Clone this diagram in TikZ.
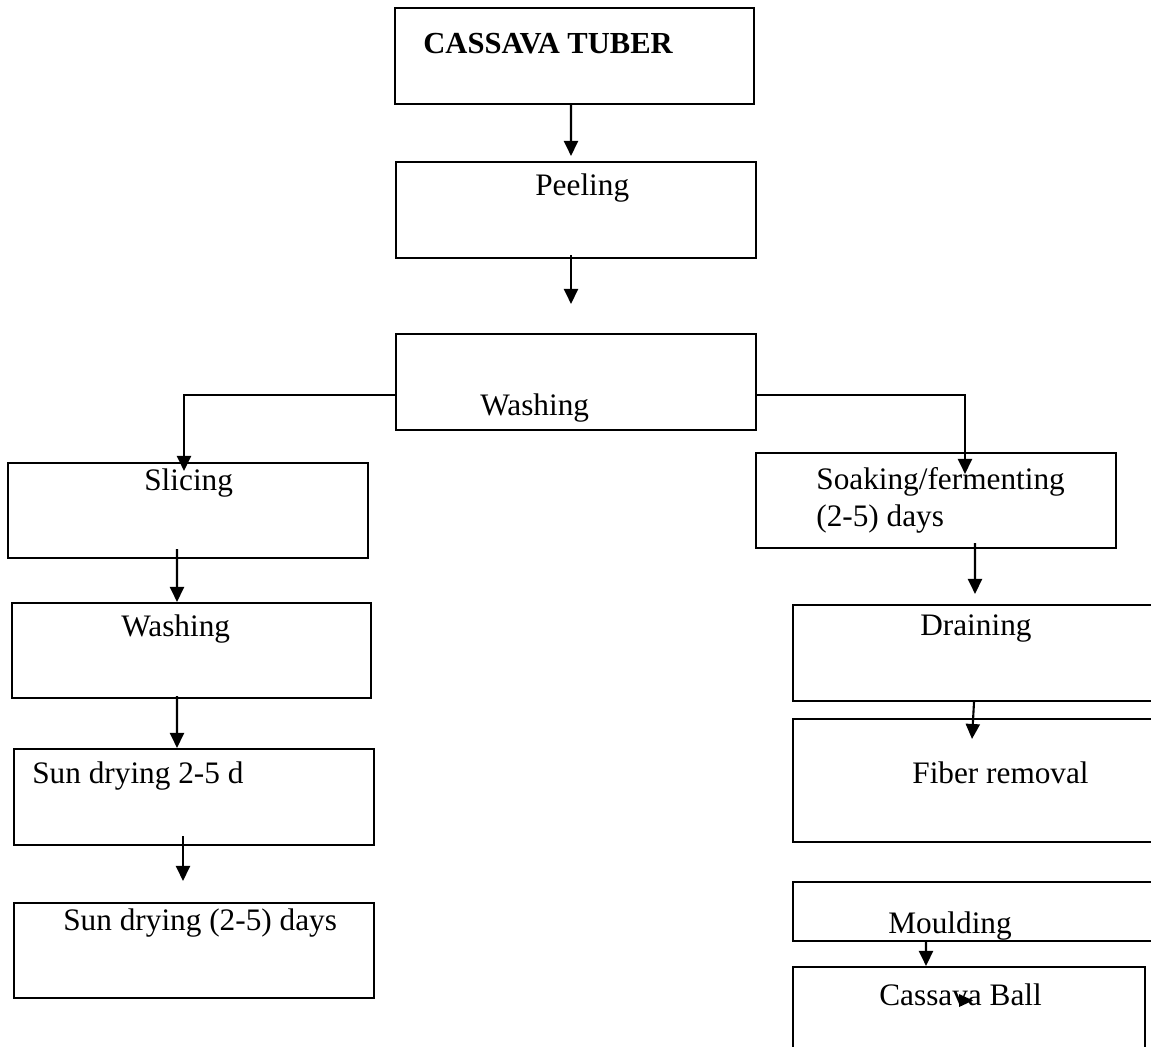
\documentclass[tikz,border=0pt]{standalone}
\usepackage{fontspec}
\setmainfont{Liberation Serif}
\usetikzlibrary{arrows.meta}

\begin{document}
\begin{tikzpicture}[x=0.02cm, y=-0.02cm,
	every node/.style={font=\fontsize{17.8}{21}\selectfont},
	box/.style={draw, line width=1.2pt, rectangle, minimum width=7.2cm, minimum height=1.92cm, inner sep=0pt},
	txt/.style={anchor=base west, inner sep=0pt},
	flow/.style={line width=1.2pt, -{Triangle[length=0.3cm, width=0.28cm]}}]
	\useasboundingbox (0,0) rectangle (1151,1046);
	\clip (0,0) rectangle (1151,1046);
	\node[box, minimum width=7.18cm] (tuber) at (574.5,56) {};
	\node[txt, font=\fontsize{17.4}{21}\selectfont\bfseries] (tuberT) at (423,53) {CASSAVA TUBER};
	\node[box] (peel) at (576,210) {};
	\node[txt] (peelT) at (535,195) {Peeling};
	\node[box] (wash) at (576,382) {};
	\node[txt] (washT) at (480,415) {Washing};
	\node[box, minimum height=1.9cm] (slice) at (188,510.5) {};
	\node[txt] (sliceT) at (144,490) {Slicing};
	\node[box, minimum width=7.18cm, minimum height=1.9cm] (washb) at (191.5,650.5) {};
	\node[txt] (washbT) at (121,636) {Washing};
	\node[box] (sunA) at (194,797) {};
	\node[txt] (sunAT) at (32,783) {Sun drying 2-5 d};
	\node[box, minimum height=1.9cm] (sunB) at (194,950.5) {};
	\node[txt] (sunBT) at (63,930) {Sun drying (2-5) days};
	\node[box, minimum height=1.9cm] (soak) at (936,500.5) {};
	\node[txt] (soakT) at (816,489) {Soaking/fermenting};
	\node[txt] (soakU) at (816,526) {(2-5) days};
	\node[box] (drain) at (973,653) {};
	\node[txt] (drainT) at (920,635) {Draining};
	\node[box, minimum height=2.46cm] (fiber) at (973,780.5) {};
	\node[txt] (fiberT) at (912,783) {Fiber removal};
	\node[box, minimum height=1.18cm] (mould) at (973,911.5) {};
	\node[txt] (mouldT) at (888,933) {Moulding};
	\node[box, minimum width=7.04cm] (ball) at (969,1015) {};
	\node[txt] (ballT) at (879,1005) {Cassava Ball};
	\draw[flow, shorten >=0.1cm] ([xshift=-0.07cm]tuber.south) -- ([xshift=-0.1cm]peel.north);
	\draw[flow, shorten >=0.58cm] ([xshift=-0.1cm, yshift=0.08cm]peel.south) -- ([xshift=-0.1cm]wash.north);
	\draw[flow] ([yshift=-0.26cm]wash.west) -| ([xshift=-0.08cm, yshift=-0.18cm]slice.north);
	\draw[flow] ([yshift=-0.26cm]wash.east) -| ([xshift=0.58cm, yshift=-0.44cm]soak.north);
	\draw[flow] ([xshift=-0.22cm, yshift=0.2cm]slice.south) -- ([xshift=-0.29cm]washb.north);
	\draw[flow] ([xshift=-0.29cm, yshift=0.06cm]washb.south) -- ([xshift=-0.34cm]sunA.north);
	\draw[flow, shorten >=0.42cm] ([xshift=-0.22cm, yshift=0.2cm]sunA.south) -- ([xshift=-0.22cm]sunB.north);
	\draw[flow, shorten >=0.2cm] ([xshift=0.78cm, yshift=0.12cm]soak.south) -- ([xshift=0.04cm]drain.north);
	\draw[flow] ([xshift=0.02cm]drain.south) -- ([xshift=-0.02cm, yshift=-0.42cm]fiber.north);
	\draw[flow] ([xshift=-0.94cm]mould.south) -- ([xshift=-0.86cm]ball.north);
	\fill (959,994) -- (973,1000.5) -- (959,1007) -- cycle;
\end{tikzpicture}
\end{document}
